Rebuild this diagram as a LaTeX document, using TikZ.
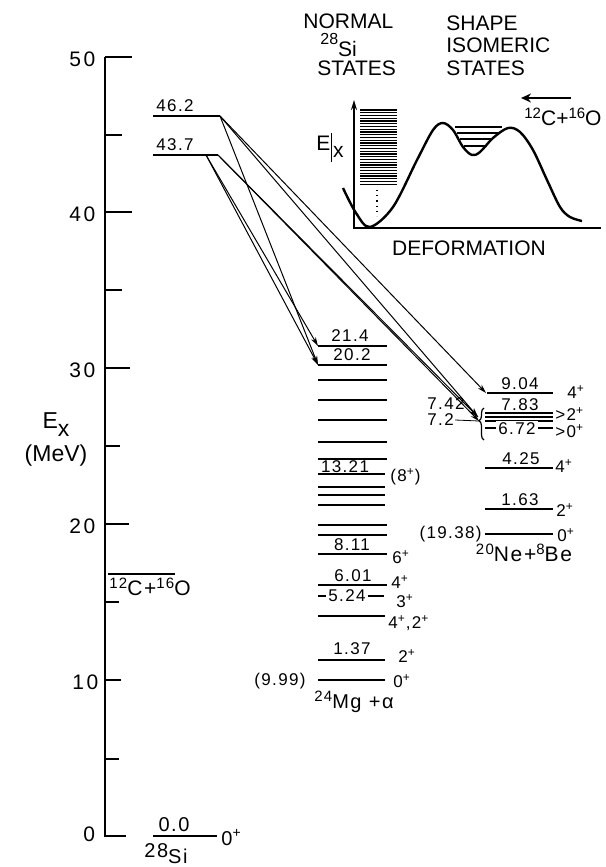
\documentclass[tikz,border=0pt]{standalone}
\usepackage{fontspec}
\setmainfont{Liberation Sans}
\newfontfamily\spaced[LetterSpace=8]{Liberation Sans}
\newfontfamily\wider[LetterSpace=12]{Liberation Sans}
\newcommand{\iso}[1]{\raisebox{0.6ex}{\fontsize{7.5}{8}\selectfont #1}}
\usetikzlibrary{arrows.meta, positioning, decorations.pathreplacing}

\begin{document}
\begin{tikzpicture}[
    x=0.5pt, y=-0.5pt,
    axis/.style={line width=1pt},
    level/.style={line width=0.9pt},
    arrow/.style={-{Stealth[length=4.5pt, width=2.6pt]}, line width=0.5pt},
    lab/.style={font=\spaced\fontsize{8.5}{10}\selectfont, inner sep=0.5pt},
    spin/.style={font=\spaced\fontsize{8.5}{10}\selectfont, inner sep=0pt, anchor=base west},
    num/.style={font=\wider\fontsize{10.5}{12}\selectfont, anchor=west, inner sep=0pt},
    title/.style={font=\fontsize{10.5}{11.25}\selectfont, align=left, inner sep=0pt},
    curve/.style={line width=1.2pt}
]
\useasboundingbox (0,0) rectangle (605,867);

\draw[axis] (105,57) -- (105,836) -- (126,836);
\draw[axis] (105,57) -- (132,57) (105,212) -- (132,212) (105,368) -- (130,368)
    (105,524) -- (129,524) (105,680) -- (121,680);
\draw[axis] (105,135) -- (122,135) (105,290) -- (122,290) (105,446) -- (120,446)
    (105,602) -- (119,602) (105,759) -- (119,759);
\node[num] (n50) at (69,59) {50};
\node[num] (n40) at (69,214) {40};
\node[num] (n30) at (69,370) {30};
\node[num] (n20) at (69,526) {20};
\node[num] (n10) at (72,682) {10};
\node[num] (n0) at (83,834) {0};

\node[font=\fontsize{11.5}{13}\selectfont, inner sep=0pt] (ex) at (56,425) {E\raisebox{-4pt}{x}};
\node[font=\fontsize{11.5}{13}\selectfont, inner sep=0pt, below=3.5pt of ex] (mev) {(MeV)};

\draw[level] (108,574) -- (175,574);
\node[lab, font=\spaced\fontsize{10.5}{12}\selectfont, anchor=north west] (co) at (108,577)
    {\iso{12}C+\iso{16}O};

\draw[level] (153,836) -- (217,836);
\node[lab, font=\spaced\fontsize{10}{12}\selectfont, anchor=south] (g00) at (174,833) {0.0};
\node[spin, font=\spaced\fontsize{10}{12}\selectfont] (g0p) at (221,845) {0\textsuperscript{+}};
\node[lab, font=\spaced\fontsize{10}{12}\selectfont, anchor=north] (gsi) at (166,842)
    {28\raisebox{-3pt}{Si}};

\draw[level] (153,116) -- (220,116);
\node[lab, anchor=south west] (t462) at (155,113) {46.2};
\draw[level] (153,155) -- (218,155);
\node[lab, anchor=south west] (t437) at (155,152) {43.7};
\coordinate (r462) at (220,116);
\coordinate (r437) at (218,155);
\coordinate (a437) at (206,155);

\draw[level] (318,346) -- (387,346) (318,365) -- (387,365) (318,380) -- (387,380)
    (318,400) -- (387,400) (318,420) -- (387,420) (318,442) -- (387,442)
    (318,459) -- (387,459) (318,474) -- (385,474) (318,487) -- (385,487)
    (318,495) -- (385,495) (318,505) -- (385,505) (318,525) -- (387,525)
    (318,535) -- (387,535) (318,554) -- (387,554) (318,585) -- (387,585)
    (318,596) -- (384,596) (318,616) -- (385,616) (318,660) -- (385,660)
    (318,680) -- (385,680);
\coordinate (e214) at (318,346);
\coordinate (e202) at (318,365);
\node[lab, anchor=south] (m214) at (350,343) {21.4};
\node[lab, anchor=south] (m202) at (352,362) {20.2};
\node[lab, anchor=south] (m1321) at (345,474) {13.21};
\node[spin] (s8) at (390,481) {(8\textsuperscript{+})};
\node[lab, anchor=south] (m811) at (352,552) {8.11};
\node[spin] (s6) at (392,563) {6\textsuperscript{+}};
\node[lab, anchor=south] (m601) at (353,583) {6.01};
\node[spin] (s4) at (391,588) {4\textsuperscript{+}};
\node[lab, fill=white, inner sep=1pt] (m524) at (347,596) {5.24};
\node[spin] (s3) at (396,607) {3\textsuperscript{+}};
\node[spin] (s42) at (388,628) {4\textsuperscript{+},2\textsuperscript{+}};
\node[lab, anchor=south] (m137) at (352,656) {1.37};
\node[spin] (s2) at (398,662) {2\textsuperscript{+}};
\node[lab, anchor=east] (m999) at (307,681) {(9.99)};
\node[spin] (s0) at (393,687) {0\textsuperscript{+}};
\node[lab, font=\spaced\fontsize{10}{11}\selectfont, anchor=north] (mga) at (354,690)
    {\iso{24}Mg +α};

\draw[level] (487,393) -- (553,393) (485,468) -- (553,468) (485,509) -- (553,509)
    (485,534) -- (553,534);
\draw[line width=0.8pt] (485,413) -- (553,413) (485,417) -- (553,417)
    (485,421) -- (553,421) (485,428) -- (553,428);
\draw[line width=0.6pt, decorate, decoration={brace, amplitude=2.5pt, aspect=0.6}]
    (484,440) -- (484,408);
\coordinate (e904) at (486,393);
\coordinate (e742) at (478,417);
\coordinate (e72) at (479,421);
\node[lab, anchor=south] (r904) at (520,391) {9.04};
\node[spin] (q4) at (567,398) {4\textsuperscript{+}};
\node[lab, anchor=south] (r783) at (520,412) {7.83};
\node[spin] (q2) at (555,420) {>2\textsuperscript{+}};
\node[lab, fill=white, inner sep=1pt] (r672) at (517,429) {6.72};
\node[spin] (q0) at (555,437) {>0\textsuperscript{+}};
\node[lab, anchor=west] (t742) at (426,404) {7.42};
\node[lab, anchor=west] (t72) at (426,420) {7.2};
\draw[line width=0.4pt, dashed] (t742.east) -- (e742);
\draw[line width=0.4pt] (t72.east) -- (e72);
\node[lab, anchor=south] (r425) at (521,466) {4.25};
\node[spin] (q44) at (555,472) {4\textsuperscript{+}};
\node[lab, anchor=south] (r163) at (520,507) {1.63};
\node[spin] (q22) at (556,516) {2\textsuperscript{+}};
\node[lab, anchor=east] (r1938) at (483,534) {(19.38)};
\node[spin] (q00) at (557,541) {0\textsuperscript{+}};
\node[lab, font=\spaced\fontsize{10.5}{11}\selectfont, anchor=north] (neb) at (524,543)
    {\iso{20}Ne+\iso{8}Be};

\draw[arrow] (r462) -- (e202);
\draw[arrow] (r462) -- (e904);
\draw[arrow] (r462) -- (e742);
\draw[arrow] (a437) -- (e214);
\draw[arrow] (a437) -- (e202);
\draw[arrow] (r437) -- (e742);
\draw[arrow] (r437) -- (e72);

\node[title, anchor=base west] (normal) at (303,28) {NORMAL};
\node[title, anchor=base west] (nsi) at (320,56) {\raisebox{6pt}{\fontsize{8}{8}\selectfont 28}Si};
\node[title, anchor=base west] (nstates) at (317,75) {STATES};
\node[title, anchor=north west] (shape) at (446,15) {SHAPE\\ISOMERIC\\STATES};

\draw[axis, -{Stealth[length=5pt, width=3pt]}] (601,228) -- (354,228) -- (354,100);
\foreach \k in {0,...,27}
    \draw[line width=0.7pt] (360,{110+2.75*\k}) -- (397,{110+2.75*\k});
\draw[line width=0.6pt, dash pattern=on 0.6pt off 2pt] (377,190) -- (377,216);
\node[font=\fontsize{10.5}{12}\selectfont, inner sep=0pt, anchor=base east] (iex) at (344,150)
    {E\kern0.5pt\rule[-6pt]{0.4pt}{14.5pt}\kern0.5pt\raisebox{-3.5pt}{x}};
\draw[curve] plot[smooth, tension=0.55] coordinates {(343,188) (356,213) (370,227)
    (393,207) (417,160) (433,130) (443,123) (453,130) (463,147) (472,155) (480,152)
    (493,138) (508,128) (520,132) (533,150) (547,180) (560,207) (570,217) (582,221)};
\draw[line width=0.8pt] (455,127) -- (502,127) (457,133) -- (498,133)
    (460,139) -- (493,139) (464,146) -- (487,146);
\coordinate (cfrom) at (571,98);
\coordinate (cto) at (521,98);
\draw[line width=1.4pt, -{Stealth[length=5pt, width=4.5pt]}] (cfrom) -- (cto);
\node[title, anchor=north west] (ico) at (524,108) {\iso{12}C+\iso{16}O};
\node[title, anchor=base] (deform) at (469,255) {DEFORMATION};
\end{tikzpicture}
\end{document}
